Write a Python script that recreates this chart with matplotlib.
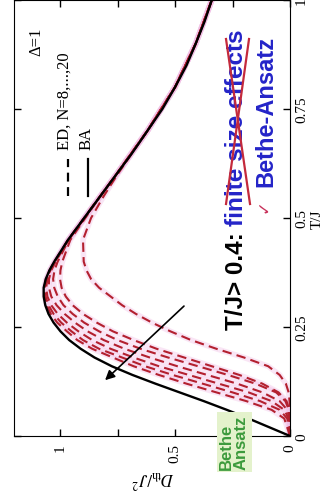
import matplotlib.pyplot as plt

plt.rcParams['font.family'] = ['Liberation Serif', 'DejaVu Serif']
plt.rcParams['mathtext.fontset'] = 'stix'

# Bethe-Ansatz curve: T/J and D_th/J^2
t_ba = [0.00, 0.02, 0.04, 0.06, 0.08, 0.10, 0.12, 0.14, 0.16, 0.18, 0.20,
        0.22, 0.24, 0.26, 0.28, 0.30, 0.32, 0.34, 0.36, 0.38, 0.40, 0.45,
        0.50, 0.55, 0.60, 0.65, 0.70, 0.75, 0.80, 0.85, 0.90, 0.95, 1.00]
d_ba = [0.000, 0.090, 0.180, 0.275, 0.375, 0.480, 0.585, 0.685, 0.775, 0.850, 0.910,
        0.960, 0.998, 1.028, 1.050, 1.064, 1.071, 1.071, 1.062, 1.046, 1.025, 0.965,
        0.895, 0.825, 0.755, 0.685, 0.620, 0.555, 0.500, 0.450, 0.410, 0.372, 0.340]

# exact diagonalisation, N = 8 ... 20
t_ed = [0.00, 0.04, 0.06, 0.08, 0.10, 0.12, 0.14, 0.16, 0.18, 0.20, 0.22, 0.24, 0.26, 0.28,
        0.30, 0.32, 0.34, 0.36, 0.38, 0.40, 0.45, 0.50, 0.55, 0.60, 0.70, 0.80, 0.90, 1.00]
ed_n8 = [0, 0, 0, 0.002, 0.006, 0.018, 0.045, 0.095, 0.20, 0.32, 0.43, 0.52, 0.60, 0.67,
         0.73, 0.78, 0.83, 0.865, 0.885, 0.897, 0.90, 0.865, 0.81, 0.75, 0.62, 0.50, 0.41, 0.34]
ed_n10 = [0, 0, 0.003, 0.015, 0.05, 0.12, 0.22, 0.34, 0.46, 0.58, 0.68, 0.77, 0.84, 0.90,
          0.945, 0.975, 0.993, 1.0, 0.998, 0.99, 0.955, 0.89, 0.825, 0.755, 0.62, 0.50, 0.41, 0.34]
ed_n12 = [0, 0.001, 0.005, 0.02, 0.06, 0.15, 0.27, 0.40, 0.53, 0.65, 0.75, 0.83, 0.895, 0.945,
          0.985, 1.01, 1.025, 1.03, 1.024, 1.01, 0.962, 0.893, 0.825, 0.755, 0.62, 0.50, 0.41, 0.34]
ed_n14 = [0, 0.003, 0.012, 0.045, 0.12, 0.23, 0.36, 0.49, 0.61, 0.72, 0.81, 0.88, 0.935, 0.98,
          1.015, 1.038, 1.048, 1.048, 1.038, 1.019, 0.963, 0.894, 0.825, 0.755, 0.62, 0.50, 0.41, 0.34]
ed_n16 = [0, 0.006, 0.025, 0.08, 0.18, 0.31, 0.44, 0.57, 0.68, 0.78, 0.86, 0.92, 0.97, 1.01,
          1.038, 1.055, 1.06, 1.055, 1.042, 1.022, 0.964, 0.894, 0.825, 0.755, 0.62, 0.50, 0.41, 0.34]
ed_n18 = [0, 0.012, 0.045, 0.13, 0.25, 0.38, 0.51, 0.63, 0.73, 0.83, 0.90, 0.95, 0.995, 1.028,
          1.05, 1.063, 1.066, 1.059, 1.044, 1.023, 0.964, 0.895, 0.825, 0.755, 0.62, 0.50, 0.41, 0.34]
ed_n20 = [0, 0.025, 0.08, 0.19, 0.32, 0.45, 0.57, 0.68, 0.77, 0.86, 0.925, 0.97, 1.012, 1.04,
          1.058, 1.068, 1.069, 1.061, 1.045, 1.024, 0.965, 0.895, 0.825, 0.755, 0.62, 0.50, 0.41, 0.34]
ed_curves = [ed_n8, ed_n10, ed_n12, ed_n14, ed_n16, ed_n18, ed_n20]

d_ticks = [0, 0.25, 0.5, 0.75, 1]
d_ticklabels = ['0', '', '0.5', '', '1']
t_ticks = [0, 0.25, 0.5, 0.75, 1]
t_ticklabels = ['0', '0.25', '0.5', '0.75', '1']

red = '#b3202f'
blue = '#2424c8'
sans = ['Liberation Sans', 'DejaVu Sans']


def px(x, y):
    # pixel position in the picture -> axes fraction
    return (x - 14) / 276, (437 - y) / 436


fig = plt.figure(figsize=(3.28, 5.02), dpi=100)
ax = fig.add_axes([0.0427, 0.1295, 0.8415, 0.8685])

# whole plot is turned on its side: D on the horizontal axis (reversed), T upward
for d in ed_curves:
    ax.plot(d, t_ed, color='#f2bfe6', lw=4, alpha=0.4, zorder=1)
for d in ed_curves:
    ax.plot(d, t_ed, color=red, lw=1.5, dashes=(4.5, 2.5), zorder=2)
ax.plot(d_ba, t_ba, color='k', lw=1.7, zorder=3)

ax.set_xlim(1.2, 0)
ax.set_ylim(0, 1)
ax.set_xticks(d_ticks)
ax.set_xticklabels(d_ticklabels, rotation=90)
ax.set_yticks(t_ticks)
ax.set_yticklabels(t_ticklabels, rotation=90, va='center')
ax.yaxis.tick_right()
ax.yaxis.set_label_position('right')
ax.tick_params(which='both', direction='in', top=True, bottom=True, left=True, right=True,
               labelleft=False, labelright=True, length=5, width=1, labelsize=11)
ax.tick_params(axis='x', pad=5)
ax.set_xlabel(r'$D_{\rm th}/J^2$', rotation=180, fontsize=12, labelpad=3)
ax.set_ylabel('T/J', fontsize=11, labelpad=2)

# legend drawn by hand (rotated)
u, v1 = px(68, 197)
_, v2 = px(68, 160)
ax.plot([u, u], [v1, v2], transform=ax.transAxes, color='k', lw=1.6, dashes=(4, 2.5))
ax.text(*px(65, 150), 'ED, N=8,...,20', transform=ax.transAxes, rotation=90,
        ha='center', va='bottom', fontsize=12)
u, _ = px(88, 0)
ax.plot([u, u], [v1, v2], transform=ax.transAxes, color='k', lw=1.6)
ax.text(*px(87, 150), 'BA', transform=ax.transAxes, rotation=90,
        ha='center', va='bottom', fontsize=12)
ax.text(*px(36, 42), 'Δ=1', transform=ax.transAxes, rotation=90,
        ha='center', va='center', fontsize=12)

# arrow: increasing N
ax.annotate('', xy=(0.804, 0.128), xytext=(0.461, 0.298),
            arrowprops=dict(arrowstyle='-|>', color='k', lw=1.2, mutation_scale=14,
                            shrinkA=0, shrinkB=0))

# annotations
t1 = ax.text(*px(236, 330), 'T/J> 0.4:', transform=ax.transAxes, rotation=90, ha='center',
             va='bottom', fontsize=17.5, family=sans, weight='bold', color='k')
ax.annotate('finite size effects', xy=(0.5, 1), xycoords=t1, xytext=(0, 4.5),
            textcoords='offset points', rotation=90, ha='center', va='bottom',
            fontsize=17.5, family=sans, weight='bold', color=blue)
for (x0, y0), (x1, y1) in [((226, 40), (250, 205)), ((249, 40), (226, 205))]:
    a, b = px(x0, y0)
    c, d = px(x1, y1)
    ax.plot([a, c], [b, d], transform=ax.transAxes, color='#c42a3c', lw=1.6, zorder=5)
ax.text(*px(266, 187), 'Bethe-Ansatz', transform=ax.transAxes, rotation=90, ha='center',
        va='bottom', fontsize=17, family=sans, weight='bold', color=blue)
ax.text(*px(263, 206), '✓', transform=ax.transAxes, rotation=90, ha='center',
        va='center', fontsize=12, family=['DejaVu Sans'], color='#c8305a')
ax.text(*px(234, 443), 'Bethe\nAnsatz', transform=ax.transAxes, rotation=90, ha='center',
        va='center', multialignment='left', fontsize=12, family=sans, weight='bold',
        color='#3c9a3c', linespacing=1.0, clip_on=False, zorder=6,
        bbox=dict(boxstyle='square,pad=0.15', facecolor='#e4f2cc', edgecolor='none'))

fig.savefig('out.png', dpi=100)
